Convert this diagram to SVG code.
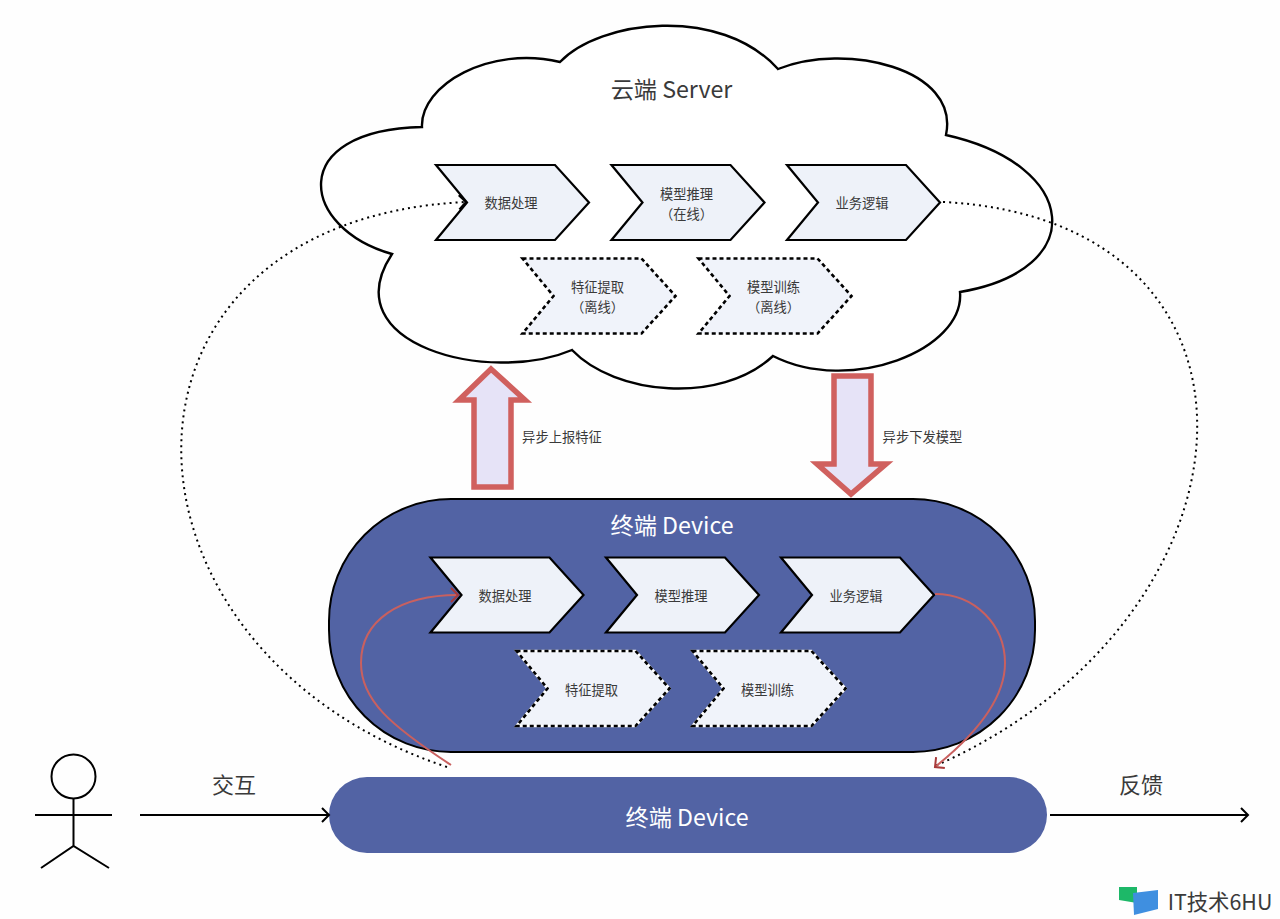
<svg xmlns="http://www.w3.org/2000/svg" width="1280" height="919" viewBox="0 0 1280 919">
<style>
text{font-family:"Noto Sans CJK SC","Noto Sans",sans-serif;text-anchor:middle;dominant-baseline:central;fill:#3a3a3a}
.s{font-size:13.3px}.m{font-size:22px}.l{font-size:23.2px}.w{fill:#fff}
.solid{fill:#eef2f9;stroke:#000;stroke-width:2.2;stroke-linejoin:miter}
.dash{fill:#f0f3fa;stroke:#000;stroke-width:2.6;stroke-dasharray:4 3}
.under{fill:#f0f3fa;stroke:#fff;stroke-width:2.6}
.pill{fill:#5263a4;stroke:#000;stroke-width:2}
.fat{fill:#e6e3f7;stroke:#d0605e;stroke-width:5.5;stroke-linejoin:miter}
.dot{fill:none;stroke:#000;stroke-width:2;stroke-dasharray:2 4}
.red{fill:none;stroke:#c9605f;stroke-width:2}
.ln{fill:none;stroke:#000;stroke-width:2}
</style>
<defs>
<marker id="ab" markerUnits="userSpaceOnUse" markerWidth="14" markerHeight="16" refX="10" refY="8" orient="auto"><path d="M3,1 L10,8 L3,15" fill="none" stroke="#000" stroke-width="2"/></marker>
<marker id="ar" markerUnits="userSpaceOnUse" markerWidth="14" markerHeight="16" refX="10" refY="8" orient="auto"><path d="M3,1 L10,8 L3,15" fill="none" stroke="#a83a3a" stroke-width="2"/></marker>
<polygon id="chev" points="0,0 119,0 153,37.500 119,75 0,75 31,37.500"/>
</defs>
<rect width="1280" height="919" fill="#fefefe"/>
<g id="cloud"><path d="M422,127 C420,85 490,45 560,62 C600,20 720,5 778,69 C845,42 960,68 946,135 C1080,165 1090,270 960,292 C965,350 850,395 773,356 C720,405 615,395 572,350 C490,385 332,345 392,254 C300,228 285,130 422,127 Z" fill="#fff" stroke="#000" stroke-width="2.4"/>
<text class="l" x="671.500" y="88">云端 Server</text></g>
<g id="device-panel"><rect class="pill" x="329" y="499" width="706" height="253" rx="122" ry="122"/>
<text class="l w" x="672" y="524">终端 Device</text></g>
<g id="cloud-data"><use href="#chev" x="436" y="165" class="solid"/><text class="s" x="511" y="202">数据处理</text></g>
<g id="cloud-infer"><use href="#chev" x="611.500" y="165" class="solid"/><text class="s" x="686.500" y="193">模型推理</text><text class="s" x="686.500" y="213">（在线）</text></g>
<g id="cloud-biz"><use href="#chev" x="787" y="165" class="solid"/><text class="s" x="862" y="202">业务逻辑</text></g>
<g id="cloud-feature"><use href="#chev" x="522.500" y="258.500" class="dash"/><text class="s" x="597.500" y="286">特征提取</text><text class="s" x="597.500" y="306">（离线）</text></g>
<g id="cloud-train"><use href="#chev" x="698.500" y="258.500" class="dash"/><text class="s" x="773.500" y="286">模型训练</text><text class="s" x="773.500" y="306">（离线）</text></g>
<g id="device-data"><use href="#chev" x="430.500" y="557.500" class="solid"/><text class="s" x="505" y="595">数据处理</text></g>
<g id="device-infer"><use href="#chev" x="606" y="557.500" class="solid"/><text class="s" x="681" y="595">模型推理</text></g>
<g id="device-biz"><use href="#chev" x="781" y="557.500" class="solid"/><text class="s" x="856" y="595">业务逻辑</text></g>
<g id="device-feature"><use href="#chev" x="516.500" y="651" class="under"/><use href="#chev" x="516.500" y="651" class="dash" style="fill:none"/><text class="s" x="591.500" y="689">特征提取</text></g>
<g id="device-train"><use href="#chev" x="692.500" y="651" class="under"/><use href="#chev" x="692.500" y="651" class="dash" style="fill:none"/><text class="s" x="767.500" y="689">模型训练</text></g>
<g id="terminal"><rect x="329" y="777" width="718" height="76" rx="38" ry="38" fill="#5263a4"/><text class="l w" x="687" y="816">终端 Device</text></g>
<g id="actor" class="ln"><circle cx="73.500" cy="776.500" r="22"/><path d="M73.500,799 V846 M35,815 H112 M41,868 L73.500,846 L109,868"/></g>
<g id="connectors">
<path class="dot" d="M447,767 C95,650 84,220 466,202" marker-end="url(#ab)"/>
<path class="dot" d="M943,202 C1298,220 1268,620 935,766"/>
<path class="red" d="M451,765 C390,725 361,700 361,663 C361,620 400,595 458,595" marker-end="url(#ar)"/>
<path class="red" d="M935,594 C975,594 1005,625 1005,663 C1005,700 975,735 935,767" marker-end="url(#ar)"/>
<path class="ln" d="M140,815 H329" marker-end="url(#ab)"/>
<path class="ln" d="M1050,815 H1248" marker-end="url(#ab)"/>
<polygon class="fat" points="491,369 525,400 511,400 511,487 474,487 474,400 459,400"/>
<polygon class="fat" points="834,376 871,376 871,464 886,464 851,494 817,464 834,464"/>
</g>
<text class="s" x="562" y="436.500">异步上报特征</text>
<text class="s" x="922.500" y="436.500">异步下发模型</text>
<text class="m" x="234" y="783">交互</text>
<text class="m" x="1141" y="783">反馈</text>
<g id="logo"><polygon points="1119,887 1137,887 1137,903 1119,900" fill="#1db868"/><polygon points="1133,893 1158,890 1158,909 1134,915" fill="#3f8fe0"/>
<text x="1220" y="900" style="font-size:21.400px">IT技术6HU</text></g>
</svg>
